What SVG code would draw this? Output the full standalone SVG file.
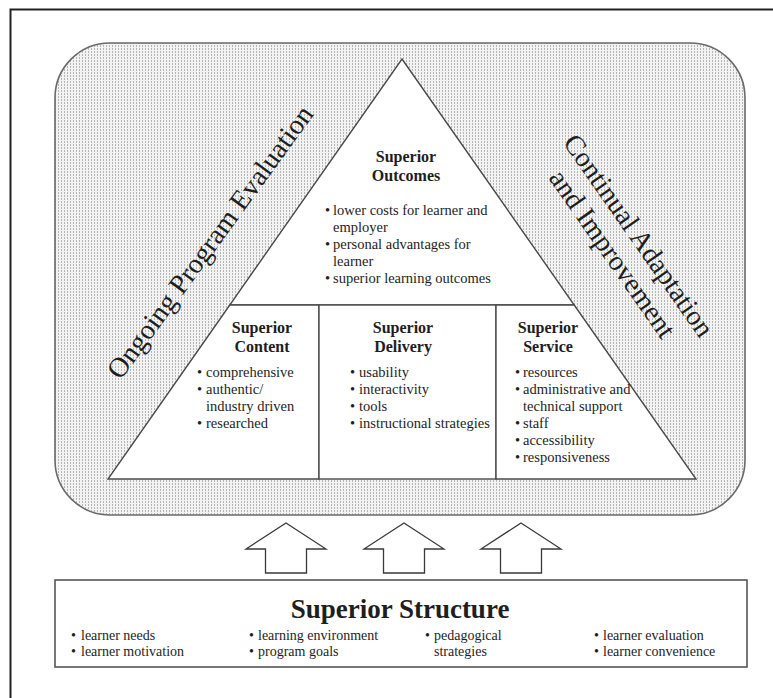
<svg xmlns="http://www.w3.org/2000/svg" width="773" height="698" viewBox="0 0 773 698">
<defs>
  <pattern id="dots" width="3" height="3" patternUnits="userSpaceOnUse">
    <rect width="3" height="3" fill="#f3f3f3"/>
    <rect x="1" y="0" width="1" height="2" fill="#b5b5b5"/>
  </pattern>
</defs>
<style>
  text { font-family: "Liberation Serif", "Times New Roman", serif; fill: #1e1e1e; }
  .big { font-size: 28px; }
  .title { font-size: 16px; font-weight: bold; text-anchor: middle; }
  .item { font-size: 14.5px; }
  .sitem { font-size: 14px; }
  .stitle { font-size: 27px; font-weight: bold; text-anchor: middle; }
  .sec { fill: #ffffff; stroke: #4a4a4a; stroke-width: 1.4; stroke-linejoin: miter; }
  .arrow { fill: #ffffff; stroke: #3a3a3a; stroke-width: 1.3; stroke-linejoin: miter; }
</style>
<rect width="773" height="698" fill="#ffffff"/>
<g id="frame">
  <rect x="10.5" y="9.5" width="800" height="800" fill="none" stroke="#222" stroke-width="2"/>
</g>
<g id="evaluation-area">
  <rect x="55" y="43" width="690" height="472" rx="55" ry="55" fill="url(#dots)" stroke="#6a6a6a" stroke-width="1.6"/>
</g>
<g id="label-evaluation">
  <text class="big" text-anchor="middle" transform="translate(217.5,247.5) rotate(-54)">Ongoing Program Evaluation</text>
</g>
<g id="label-adaptation" transform="translate(618,250) rotate(55)">
  <text class="big" text-anchor="middle" x="0" y="-16">Continual Adaptation</text>
  <text class="big" text-anchor="middle" x="0" y="16">and Improvement</text>
</g>
<g id="outcomes">
  <polygon class="sec" points="402,59 574.2,305 229.8,305"/>
  <text class="title" x="406" y="162">Superior</text>
  <text class="title" x="406" y="181">Outcomes</text>
  <text class="item" x="325" y="215">•</text><text class="item" x="333" y="215">lower costs for learner and</text>
  <text class="item" x="333" y="232">employer</text>
  <text class="item" x="325" y="249">•</text><text class="item" x="333" y="249">personal advantages for</text>
  <text class="item" x="333" y="266">learner</text>
  <text class="item" x="325" y="283">•</text><text class="item" x="333" y="283">superior learning outcomes</text>
</g>
<g id="content">
  <polygon class="sec" points="229.8,305 319,305 319,479 108,479"/>
  <text class="title" x="262" y="333">Superior</text>
  <text class="title" x="262" y="352">Content</text>
  <text class="item" x="197" y="377">•</text><text class="item" x="206" y="377">comprehensive</text>
  <text class="item" x="197" y="394">•</text><text class="item" x="206" y="394">authentic/</text>
  <text class="item" x="206" y="411">industry driven</text>
  <text class="item" x="197" y="428">•</text><text class="item" x="206" y="428">researched</text>
</g>
<g id="delivery">
  <rect class="sec" x="319" y="305" width="177" height="174"/>
  <text class="title" x="403" y="333">Superior</text>
  <text class="title" x="403" y="352">Delivery</text>
  <text class="item" x="350" y="377">•</text><text class="item" x="359" y="377">usability</text>
  <text class="item" x="350" y="394">•</text><text class="item" x="359" y="394">interactivity</text>
  <text class="item" x="350" y="411">•</text><text class="item" x="359" y="411">tools</text>
  <text class="item" x="350" y="428">•</text><text class="item" x="359" y="428">instructional strategies</text>
</g>
<g id="service">
  <polygon class="sec" points="496,305 574.2,305 696,479 496,479"/>
  <text class="title" x="548" y="333">Superior</text>
  <text class="title" x="548" y="352">Service</text>
  <text class="item" x="515" y="377">•</text><text class="item" x="523" y="377">resources</text>
  <text class="item" x="515" y="394">•</text><text class="item" x="523" y="394">administrative and</text>
  <text class="item" x="523" y="411">technical support</text>
  <text class="item" x="515" y="428">•</text><text class="item" x="523" y="428">staff</text>
  <text class="item" x="515" y="445">•</text><text class="item" x="523" y="445">accessibility</text>
  <text class="item" x="515" y="462">•</text><text class="item" x="523" y="462">responsiveness</text>
</g>
<g id="connectors">
  <polygon class="arrow" points="286,523 326,549 306.5,549 306.5,573 265.5,573 265.5,549 246,549"/>
  <polygon class="arrow" points="404,523 444,549 424.5,549 424.5,573 383.5,573 383.5,549 364,549"/>
  <polygon class="arrow" points="521,523 561,549 541.5,549 541.5,573 500.5,573 500.5,549 481,549"/>
</g>
<g id="structure">
  <rect x="55" y="580" width="692" height="87" fill="#ffffff" stroke="#555" stroke-width="1.6"/>
  <text class="stitle" x="400" y="618">Superior Structure</text>
  <text class="sitem" x="71" y="640">•</text><text class="sitem" x="81" y="640">learner needs</text>
  <text class="sitem" x="71" y="656">•</text><text class="sitem" x="81" y="656">learner motivation</text>
  <text class="sitem" x="249" y="640">•</text><text class="sitem" x="258" y="640">learning environment</text>
  <text class="sitem" x="249" y="656">•</text><text class="sitem" x="258" y="656">program goals</text>
  <text class="sitem" x="425" y="640">•</text><text class="sitem" x="434" y="640">pedagogical</text>
  <text class="sitem" x="434" y="656">strategies</text>
  <text class="sitem" x="594" y="640">•</text><text class="sitem" x="603" y="640">learner evaluation</text>
  <text class="sitem" x="594" y="656">•</text><text class="sitem" x="603" y="656">learner convenience</text>
</g>
</svg>
